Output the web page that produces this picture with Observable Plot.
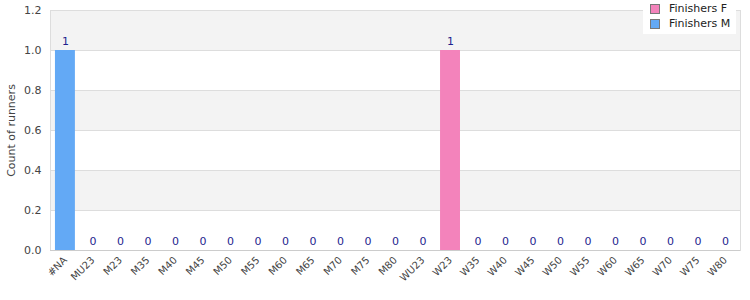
<!DOCTYPE html>
<html>
<head>
<meta charset="utf-8">
<script src="https://cdn.jsdelivr.net/npm/d3@7"></script>
<script src="https://cdn.jsdelivr.net/npm/@observablehq/plot@0.6"></script>
<style>
  body { margin: 0; background: #fff; font-family: "DejaVu Sans", sans-serif; }
  #wrap { position: relative; width: 750px; height: 300px; }
  #legend { position: absolute; left: 643px; top: 0px; width: 93px; height: 34px; background: #fff;
            font: 11px "DejaVu Sans", sans-serif; color: #222; }
  .item { position: absolute; left: 7px; display: flex; align-items: center; }
  .sw { width: 8px; height: 8px; border: 1px solid #777; margin-right: 9px; }
</style>
</head>
<body>
<div id="wrap"></div>
<script>
const categories = ["#NA","MU23","M23","M35","M40","M45","M50","M55","M60","M65","M70","M75","M80",
  "WU23","W23","W35","W40","W45","W50","W55","W60","W65","W70","W75","W80"];
const finishersM = [1,0,0,0,0,0,0,0,0,0,0,0,0,0,0,0,0,0,0,0,0,0,0,0,0];
const finishersF = [0,0,0,0,0,0,0,0,0,0,0,0,0,0,1,0,0,0,0,0,0,0,0,0,0];
const seriesNames = ["Finishers F", "Finishers M"];
const seriesColors = ["#f383bb", "#63a9f5"];
const yTicks = [0, 0.2, 0.4, 0.6, 0.8, 1.0, 1.2];

const rows = [];
categories.forEach((c, i) => {
  rows.push({cat: c, series: "Finishers M", value: finishersM[i]});
  rows.push({cat: c, series: "Finishers F", value: finishersF[i]});
});
const totals = categories.map((c, i) => ({cat: c, total: finishersM[i] + finishersF[i]}));
const bands = yTicks.slice(0, -1).map((t, i) => ({y1: t, y2: yTicks[i + 1], odd: i % 2 === 1}))
  .filter(d => d.odd);

const chart = Plot.plot({
  width: 750,
  height: 300,
  marginLeft: 50,
  marginRight: 10,
  marginTop: 10,
  marginBottom: 50,
  style: {fontFamily: "DejaVu Sans, sans-serif", background: "#fff"},
  x: {domain: categories, paddingInner: 0.275, paddingOuter: 0.18, round: false, label: null},
  y: {domain: [0, 1.2], label: null},
  color: {domain: seriesNames, range: seriesColors},
  marks: [
    Plot.rectY(bands, {y1: "y1", y2: "y2", fill: "#f3f3f3"}),
    Plot.gridY(yTicks, {stroke: "#dddddd", strokeOpacity: 1}),
    Plot.frame({stroke: "#dddddd"}),
    Plot.barY(rows, Plot.stackY({x: "cat", y: "value", fill: "series", order: ["Finishers M", "Finishers F"]})),
    Plot.text(totals, {x: "cat", y: "total", text: d => String(d.total), dy: -9, fill: "#1f1f8f", fontSize: 11}),
    Plot.axisY(yTicks, {tickFormat: d3.format(".1f"), tickSize: 0, tickPadding: 9, fontSize: 11, fill: "#444",
      label: "Count of runners", labelAnchor: "center", labelArrow: "none", labelOffset: 43}),
    Plot.axisX({tickSize: 0, tickPadding: 8, tickRotate: -45, fontSize: 10, fill: "#444", label: null}),
    Plot.ruleY([0], {stroke: "#cccccc"})
  ]
});
const wrap = document.getElementById("wrap");
wrap.appendChild(chart);
const legend = document.createElement("div");
legend.id = "legend";
seriesNames.forEach((n, i) => {
  const it = document.createElement("div");
  it.className = "item";
  it.style.top = (2 + i * 15) + "px";
  it.innerHTML = `<span class="sw" style="background:${seriesColors[i]}"></span><span>${n}</span>`;
  legend.appendChild(it);
});
wrap.appendChild(legend);
</script>
</body>
</html>
